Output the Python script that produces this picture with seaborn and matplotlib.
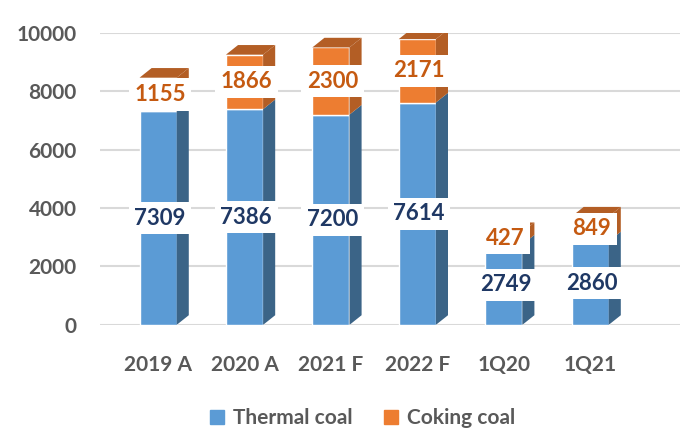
import matplotlib
matplotlib.use("Agg")
import matplotlib.pyplot as plt
from matplotlib.patches import Polygon, Patch
import seaborn as sns
import pandas as pd

categories = ["2019 A", "2020 A", "2021 F", "2022 F", "1Q20", "1Q21"]
thermal = [7309, 7386, 7200, 7614, 2749, 2860]
coking = [1155, 1866, 2300, 2171, 427, 849]
yticks = [0, 2000, 4000, 6000, 8000, 10000]

C_TH, C_TH_SIDE = "#5b9bd5", "#3b6487"
C_CO, C_CO_SIDE = "#ed7d31", "#b35e25"
C_TH_TXT, C_CO_TXT = "#1f3864", "#c55a11"
GRAY = "#595959"

sns.set_theme(style="white")
plt.rcParams["font.family"] = ["Lato", "DejaVu Sans"]

df = pd.DataFrame({"cat": categories, "thermal": thermal, "coking": coking})

fig = plt.figure(figsize=(6.96, 4.32), dpi=100)
ax = fig.add_axes([0.144, 0.248, 0.833, 0.676])

for y in yticks:
    ax.axhline(y, color="#d9d9d9", lw=1.5, zorder=0)

sns.barplot(data=df, x="cat", y="thermal", color=C_TH, width=0.43,
            saturation=1, ax=ax, zorder=2)
n = len(categories)
th_patches = list(ax.patches)[:n]
sns.barplot(data=df, x="cat", y="coking", color=C_CO, width=0.43,
            saturation=1, ax=ax, bottom=df["thermal"], zorder=2)
co_patches = list(ax.patches)[n:2 * n]

dx, dy = 0.14, 330

def side(p, color):
    x0, y0 = p.get_x(), p.get_y()
    w, h = p.get_width(), p.get_height()
    xr = x0 + w
    ax.add_patch(Polygon([(xr, y0), (xr + dx, y0 + dy), (xr + dx, y0 + h + dy), (xr, y0 + h)],
                         closed=True, facecolor=color, edgecolor="none", zorder=2))

def top(p, color):
    x0, y0 = p.get_x(), p.get_y()
    w, h = p.get_width(), p.get_height()
    yt = y0 + h
    ax.add_patch(Polygon([(x0, yt), (x0 + dx, yt + dy), (x0 + w + dx, yt + dy), (x0 + w, yt)],
                         closed=True, facecolor=color, edgecolor="none", zorder=2))

for p in th_patches:
    side(p, C_TH_SIDE)
for p in co_patches:
    side(p, C_CO_SIDE)
    top(p, C_CO_SIDE)

for p, v in zip(th_patches, thermal):
    ax.text(p.get_x() + p.get_width() / 2 + 0.02, p.get_y() + p.get_height() / 2, f"{v}",
            ha="center", va="center", fontsize=16, fontweight="bold", color=C_TH_TXT,
            zorder=4, bbox=dict(facecolor="white", edgecolor="none", pad=4))
for p, v in zip(co_patches, coking):
    ax.text(p.get_x() + p.get_width() / 2 + 0.02, p.get_y() + p.get_height() / 2, f"{v}",
            ha="center", va="center", fontsize=16, fontweight="bold", color=C_CO_TXT,
            zorder=4, bbox=dict(facecolor="white", edgecolor="none", pad=4))

ax.set_xlim(-0.67, 6.04)
ax.set_ylim(0, 10000)
ax.set_yticks(yticks)
ax.set_yticklabels([str(t) for t in yticks])
ax.set_xlabel("")
ax.set_ylabel("")
for s in ax.spines.values():
    s.set_visible(False)
ax.tick_params(axis="y", labelsize=15, labelcolor=GRAY, pad=17, length=0)
ax.tick_params(axis="x", labelsize=15, labelcolor=GRAY, pad=22, length=0)
for lab in ax.get_xticklabels() + ax.get_yticklabels():
    lab.set_fontweight("bold")

ax.legend(handles=[Patch(color=C_TH, label="Thermal coal"), Patch(color=C_CO, label="Coking coal")],
          loc="center", bbox_to_anchor=(0.452, -0.32), bbox_transform=ax.transAxes,
          ncol=2, frameon=False, handlelength=0.7, handleheight=0.7, handletextpad=0.4,
          columnspacing=1.5, prop={"weight": "bold", "size": 15}, labelcolor=GRAY)

fig.savefig("out.png", dpi=100)
